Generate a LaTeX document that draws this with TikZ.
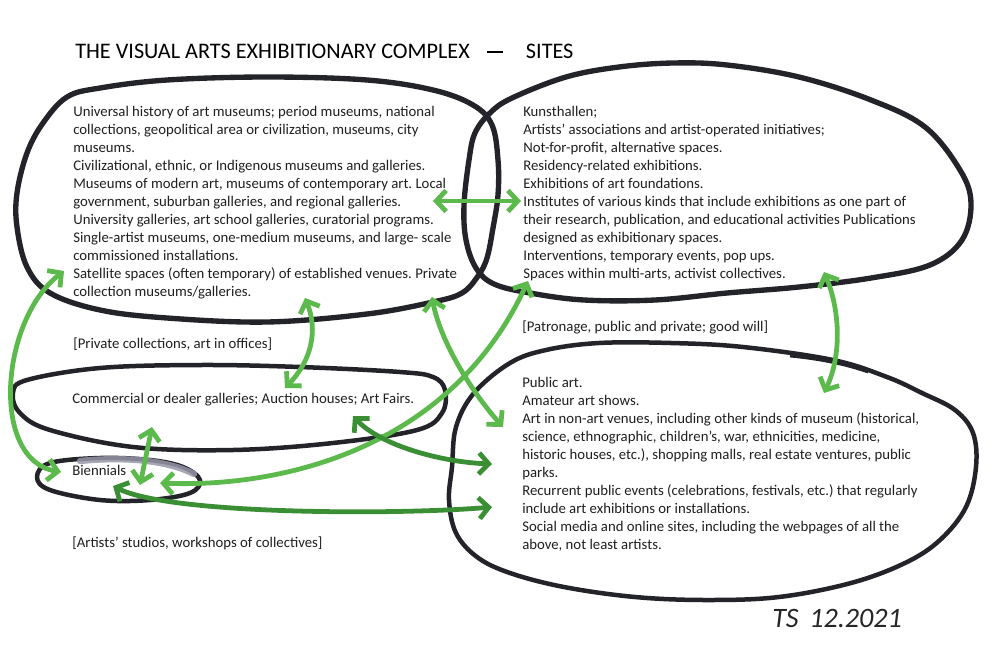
\documentclass[tikz,border=0pt]{standalone}
\usepackage{fontspec}
\setmainfont{Carlito}
\frenchspacing
\usetikzlibrary{arrows.meta}
\definecolor{ink}{RGB}{35,35,42}
\definecolor{marker}{RGB}{92,186,76}
\definecolor{darkmarker}{RGB}{58,142,52}
\definecolor{smudge}{RGB}{150,150,168}

\begin{document}
\begin{tikzpicture}[x=0.025cm,y=-0.025cm,
  >={Straight Barb[length=7pt,width=15pt]},
  blob/.style={draw=ink,line width=3.8pt,line join=round},
  thinblob/.style={draw=ink,line width=3.2pt,line join=round},
  link/.style={draw=marker,line width=3.4pt,line cap=round,<->},
  darklink/.style={link,draw=darkmarker},
  txt/.style={font=\fontsize{10.5pt}{12.8pt}\selectfont,text=black!88,inner sep=0pt,align=left}]
\useasboundingbox (0,0) rectangle (1000,652);

% ends of the green arrows
\coordinate (MK) at (433,201);
\coordinate (KM) at (521,201);
\coordinate (MB) at (64,271);
\coordinate (BM) at (61,472);
\coordinate (MC) at (305,298);
\coordinate (CM) at (285,388);
\coordinate (CB) at (152,427);
\coordinate (BC) at (140,485);
\coordinate (KB) at (528,281);
\coordinate (BK) at (160,483);
\coordinate (MP) at (432,297);
\coordinate (PM) at (503,427);
\coordinate (KP) at (824,272);
\coordinate (PK) at (824,393);
\coordinate (CP) at (353,416);
\coordinate (PC) at (492,464);
\coordinate (BP) at (113,486);
\coordinate (PB) at (492,507);

% the loops
\draw[blob] plot[smooth cycle,tension=0.6] coordinates {(67,97) (100,88) (167,80) (267,77) (367,80) (433,90) (473,105) (492,125) (498,160) (498,195) (493,228) (487,258) (478,276) (462,293) (433,302) (367,314) (267,322) (167,318) (100,310) (50,293) (27,267) (17,227) (17,193) (27,153) (43,123)};
\draw[blob] plot[smooth cycle,tension=0.6] coordinates {(469,160) (475,133) (490,113) (512,98) (566,77) (619,67) (673,63) (727,65) (799,77) (871,100) (925,127) (960,170) (971,203) (962,240) (930,265) (871,278) (799,287) (727,293) (655,300) (584,300) (530,293) (494,284) (476,268) (466,240) (464,205)};
\draw[thinblob] plot[smooth cycle,tension=0.6] coordinates {(27,380) (100,368) (200,365) (300,367) (400,372) (433,377) (445,390) (442,413) (417,430) (333,443) (233,450) (133,447) (50,430) (20,413) (13,393)};
\draw[thinblob] plot[smooth cycle,tension=0.6] coordinates {(50,463) (100,458) (150,460) (183,467) (200,480) (190,493) (150,500) (100,500) (50,490) (37,477)};
\draw[smudge,line width=4.5pt,line cap=round,opacity=0.85] (80,461) .. controls (120,457) and (165,459) .. (194,474);
\draw[thinblob] plot[smooth cycle,tension=0.6] coordinates {(510,363) (546,350) (599,343) (671,343) (743,347) (833,360) (887,377) (922,393) (955,410) (973,433) (976,467) (966,507) (940,540) (905,563) (851,583) (779,597) (707,600) (635,597) (564,587) (510,573) (477,557) (456,533) (449,500) (452,467) (456,427) (474,393)};
\draw[ink,line width=2pt] (790,356) .. controls (820,359) and (845,364) .. (868,372);

% the green arrows
\draw[link] (MK) -- (KM);
\draw[link] (MB) .. controls (0,320) and (-10,460) .. (BM);
\draw[link] (MC) .. controls (318,330) and (312,360) .. (CM);
\draw[link] (CB) -- (BC);
\draw[link] (KB) .. controls (450,450) and (280,488) .. (BK);
\draw[link] (MP) .. controls (440,340) and (470,390) .. (PM);
\draw[link] (KP) .. controls (840,310) and (842,355) .. (PK);
\draw[darklink] (CP) .. controls (380,445) and (440,462) .. (PC);
\draw[darklink] (BP) .. controls (170,515) and (400,515) .. (PB);

% texts
\node[anchor=base west,inner sep=0pt,font=\fontsize{15.8pt}{18pt}\selectfont] (title) at (75,58) {THE VISUAL ARTS EXHIBITIONARY COMPLEX\hspace{12.5pt}\rule[3.6pt]{11.4pt}{1.4pt}\hspace{16pt}SITES};
\node[txt,anchor=north west] (museums) at (73,106) {Universal history of art museums; period museums, national\\
collections, geopolitical area or civilization, museums, city\\
museums.\\
Civilizational, ethnic, or Indigenous museums and galleries.\\
Museums of modern art, museums of contemporary art. Local\\
government, suburban galleries, and regional galleries.\\
University galleries, art school galleries, curatorial programs.\\
Single-artist museums, one-medium museums, and large- scale\\
commissioned installations.\\
Satellite spaces (often temporary) of established venues. Private\\
collection museums/galleries.};
\node[txt,anchor=north west] (kunst) at (523,106) {Kunsthallen;\\
Artists’ associations and artist-operated initiatives;\\
Not-for-profit, alternative spaces.\\
Residency-related exhibitions.\\
Exhibitions of art foundations.\\
Institutes of various kinds that include exhibitions as one part of\\
their research, publication, and educational activities Publications\\
designed as exhibitionary spaces.\\
Interventions, temporary events, pop ups.\\
Spaces within multi-arts, activist collectives.};
\node[txt,anchor=north west] (public) at (522,377) {Public art.\\
Amateur art shows.\\
Art in non-art venues, including other kinds of museum (historical,\\
science, ethnographic, children’s, war, ethnicities, medicine,\\
historic houses, etc.), shopping malls, real estate ventures, public\\
parks.\\
Recurrent public events (celebrations, festivals, etc.) that regularly\\
include art exhibitions or installations.\\
Social media and online sites, including the webpages of all the\\
above, not least artists.};
\node[txt,anchor=base west] (patronage) at (522,331) {[Patronage, public and private; good will]};
\node[txt,anchor=base west] (private) at (73,348) {[Private collections, art in offices]};
\node[txt,anchor=base west] (commercial) at (72,403) {Commercial or dealer galleries; Auction houses; Art Fairs.};
\node[txt,anchor=base west] (biennials) at (72,475) {Biennials};
\node[txt,anchor=base west] (studios) at (72,547) {[Artists’ studios, workshops of collectives]};
\node[anchor=base west,inner sep=0pt,text=black!85,font=\fontsize{20pt}{22pt}\selectfont\itshape] (sign) at (772,627) {TS\hspace{3pt} 12.2021};
\end{tikzpicture}
\end{document}
